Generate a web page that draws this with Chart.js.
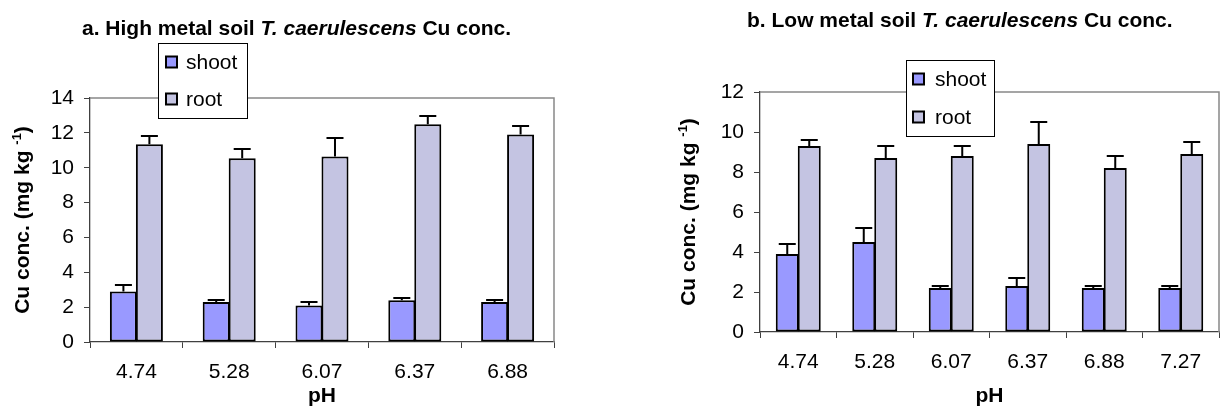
<!DOCTYPE html>
<html>
<head>
<meta charset="utf-8">
<script src="https://cdn.jsdelivr.net/npm/chart.js@4.4.1/dist/chart.umd.min.js"></script>
<style>
  body { margin: 0; background: #fff; }
  .panel { position: absolute; top: 0; width: 610px; height: 411px; }
  canvas { display: block; }
</style>
</head>
<body>
<div class="panel" style="left:0"><canvas id="high" width="610" height="411"></canvas></div>
<div class="panel" style="left:610px"><canvas id="low" width="610" height="411"></canvas></div>
<script>
// a. high metal soil
const phHigh = ['4.74', '5.28', '6.07', '6.37', '6.88'];
const shootHigh = [2.9, 2.3, 2.1, 2.4, 2.3];
const shootHighErr = [0.35, 0.12, 0.22, 0.12, 0.1];
const rootHigh = [11.35, 10.55, 10.65, 12.5, 11.9];
const rootHighErr = [0.45, 0.55, 1.05, 0.45, 0.47];

// b. low metal soil
const phLow = ['4.74', '5.28', '6.07', '6.37', '6.88', '7.27'];
const shootLow = [3.9, 4.5, 2.2, 2.3, 2.2, 2.2];
const shootLowErr = [0.52, 0.72, 0.1, 0.4, 0.1, 0.1];
const rootLow = [9.3, 8.7, 8.8, 9.4, 8.2, 8.9];
const rootLowErr = [0.3, 0.6, 0.5, 1.1, 0.6, 0.6];

const FONT = '"Liberation Sans", Arial, sans-serif';
const SHOOT_COLOR = '#9999FF';
const ROOT_COLOR = '#C4C4E2';
const AXIS_COLOR = '#404040';
const FRAME_COLOR = '#888888';

// draws a row of text pieces with mixed styles, starting at x
function drawPieces(ctx, pieces, x, y) {
  let cx = x;
  pieces.forEach(p => {
    ctx.font = p.font;
    ctx.fillText(p.text, cx, y + (p.dy || 0));
    cx += ctx.measureText(p.text).width;
  });
}
function piecesWidth(ctx, pieces) {
  return pieces.reduce((w, p) => { ctx.font = p.font; return w + ctx.measureText(p.text).width; }, 0);
}

const decorPlugin = {
  id: 'decor',
  beforeDatasetsDraw(chart) {
    // grey plot-area frame on top and right
    const { ctx, chartArea: a } = chart;
    ctx.save();
    ctx.strokeStyle = FRAME_COLOR;
    ctx.lineWidth = 1.5;
    ctx.beginPath();
    ctx.moveTo(a.left, a.top);
    ctx.lineTo(a.right, a.top);
    ctx.lineTo(a.right, a.bottom);
    ctx.stroke();
    ctx.restore();
  },
  afterDatasetsDraw(chart, args, opts) {
    // positive error bars with caps
    const { ctx } = chart;
    const y = chart.scales.y;
    ctx.save();
    ctx.strokeStyle = '#000';
    ctx.lineWidth = 2;
    chart.data.datasets.forEach((ds, di) => {
      chart.getDatasetMeta(di).data.forEach((bar, i) => {
        const top = Math.round(y.getPixelForValue(ds.data[i] + ds.errorBars[i]));
        ctx.beginPath();
        ctx.moveTo(bar.x, bar.y);
        ctx.lineTo(bar.x, top);
        ctx.moveTo(bar.x - opts.cap / 2, top);
        ctx.lineTo(bar.x + opts.cap / 2, top);
        ctx.stroke();
      });
    });
    ctx.restore();
  },
  afterDraw(chart, args, opts) {
    const { ctx, chartArea: a } = chart;
    ctx.save();
    ctx.fillStyle = '#000';
    ctx.textBaseline = 'alphabetic';
    ctx.textAlign = 'left';

    // title
    const bold = 'bold 21px ' + FONT;
    const boldIt = 'italic bold 21px ' + FONT;
    drawPieces(ctx, [
      { text: opts.title, font: bold },
      { text: 'T. caerulescens', font: boldIt },
      { text: ' Cu conc.', font: bold }
    ], opts.titleX, opts.titleY);

    // rotated y axis title with superscript
    const yt = [
      { text: 'Cu conc. (mg kg ', font: bold },
      { text: '-1', font: 'bold 13px ' + FONT, dy: -8 },
      { text: ')', font: bold }
    ];
    ctx.translate(opts.yTitleX, (a.top + a.bottom) / 2);
    ctx.rotate(-Math.PI / 2);
    drawPieces(ctx, yt, -piecesWidth(ctx, yt) / 2, 7);
    ctx.setTransform(1, 0, 0, 1, 0, 0);

    // legend box
    const L = opts.legend;
    ctx.fillStyle = '#fff';
    ctx.fillRect(L.x, L.y, L.w, L.h);
    ctx.strokeStyle = '#000';
    ctx.lineWidth = 1;
    ctx.strokeRect(L.x + 0.5, L.y + 0.5, L.w, L.h);
    ctx.font = '21px ' + FONT;
    ctx.textBaseline = 'middle';
    chart.data.datasets.forEach((ds, i) => {
      const ry = L.rows[i];
      ctx.fillStyle = ds.backgroundColor;
      ctx.fillRect(L.sx, ry - 5.5, 11, 11);
      ctx.lineWidth = 2;
      ctx.strokeRect(L.sx, ry - 5.5, 11, 11);
      ctx.fillStyle = '#000';
      ctx.fillText(ds.label, L.tx, ry + 1);
    });
    ctx.restore();
  }
};

function makeChart(id, labels, shoot, shootErr, root, rootErr, o) {
  const common = { borderColor: '#000', borderWidth: 2, borderSkipped: false,
                   categoryPercentage: o.catPct, barPercentage: o.barPct };
  return new Chart(document.getElementById(id), {
    type: 'bar',
    data: {
      labels: labels,
      datasets: [
        Object.assign({ label: 'shoot', data: shoot, errorBars: shootErr, backgroundColor: SHOOT_COLOR }, common),
        Object.assign({ label: 'root', data: root, errorBars: rootErr, backgroundColor: ROOT_COLOR }, common)
      ]
    },
    options: {
      responsive: false,
      animation: false,
      devicePixelRatio: 1,
      layout: { padding: { top: o.top, right: o.right, left: 0, bottom: 0 } },
      plugins: {
        legend: { display: false },
        tooltip: { enabled: false },
        decor: o.decor
      },
      scales: {
        x: {
          grid: { drawOnChartArea: false, drawTicks: true, tickLength: 6, color: AXIS_COLOR, offset: true },
          border: { color: AXIS_COLOR, width: 1.3 },
          ticks: { color: '#000', font: { family: FONT, size: 21 }, padding: 12, maxRotation: 0 },
          title: { display: true, text: 'pH', color: '#000', font: { family: FONT, size: 21, weight: 'bold' },
                   padding: { top: 0, bottom: 2 } },
          afterFit: s => { s.height = o.xH; }
        },
        y: {
          min: 0,
          max: o.ymax,
          ticks: { stepSize: 2, color: '#000', font: { family: FONT, size: 21 }, padding: 10 },
          grid: { drawOnChartArea: false, drawTicks: true, tickLength: 6, color: AXIS_COLOR },
          border: { color: AXIS_COLOR, width: 1.3 },
          afterFit: s => { s.width = o.yW; }
        }
      }
    },
    plugins: [decorPlugin]
  });
}

try {
  makeChart('high', phHigh, shootHigh, shootHighErr, rootHigh, rootHighErr, {
    top: 98, right: 56, yW: 90, xH: 69, ymax: 14, catPct: 0.56, barPct: 1.04,
    decor: {
      title: 'a. High metal soil ', titleX: 82, titleY: 35, yTitleX: 22, cap: 17,
      legend: { x: 158, y: 43, w: 89, h: 75, sx: 166, tx: 186, rows: [62, 99] }
    }
  });
  makeChart('low', phLow, shootLow, shootLowErr, rootLow, rootLowErr, {
    top: 92, right: 1, yW: 150, xH: 79, ymax: 12, catPct: 0.575, barPct: 1.045,
    decor: {
      title: 'b. Low metal soil ', titleX: 137, titleY: 27, yTitleX: 78, cap: 17,
      legend: { x: 296, y: 60, w: 88, h: 76, sx: 303, tx: 325, rows: [79, 117] }
    }
  });
} catch (err) {
  console.error('Error initializing the charts:', err);
}
</script>
</body>
</html>
